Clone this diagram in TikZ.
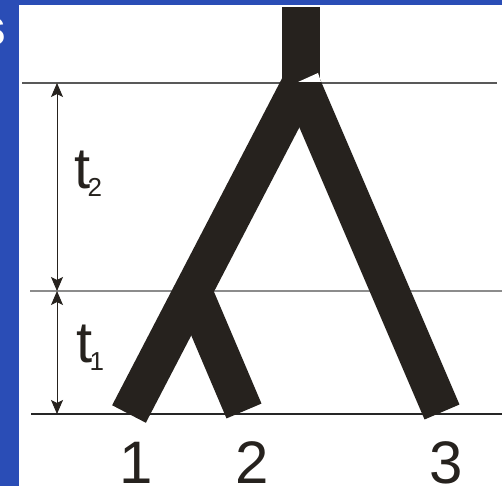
\documentclass[tikz,border=0pt]{standalone}
\usepackage{fontspec}
\setmainfont{Liberation Sans}
\usetikzlibrary{arrows.meta}
\definecolor{SlideBlue}{HTML}{2A4DB6}
\definecolor{TreeInk}{HTML}{26221E}

\begin{document}
\begin{tikzpicture}[x=0.5pt,y=-0.5pt,
    branch/.style={TreeInk,line width=19pt},
    level/.style={line width=0.7pt},
    span/.style={{Stealth[length=7pt,width=6pt,inset=1.5pt]}-{Stealth[length=7pt,width=6pt,inset=1.5pt]},line width=0.5pt,TreeInk},
    leaf/.style={anchor=base,inner sep=0pt,text=TreeInk,font=\fontsize{30}{30}\selectfont},
    time/.style={anchor=base west,inner sep=0pt,text=TreeInk,font=\fontsize{29}{29}\selectfont}]
        \useasboundingbox (0,0) rectangle (502,486);
        \fill[SlideBlue] (0,0) rectangle (502,486);
        \fill[white] (19,5) rectangle (502,486);
        \node[white,anchor=east,inner sep=0pt,font=\bfseries\fontsize{26}{26}\selectfont] (title) at (7,32) {s};
        % time levels
        \draw[level,black!65] (22,83) -- (497,83);
        \draw[level,black!45] (30,291) -- (502,291);
        \draw[level,black!85] (31,414) -- (502,414);
        \coordinate (t2top) at (57,83);
        \coordinate (t1top) at (57,291);
        \coordinate (t1bot) at (57,414);
        \draw[span] (t2top) -- (t1top);
        \draw[span] (t1top) -- (t1bot);
        \node[time] (lab2) at (74,188) {t\kern-1.5pt\raisebox{-4pt}{\fontsize{13}{13}\selectfont 2}};
        \node[time] (lab1) at (76,362) {t\kern-1.5pt\raisebox{-4pt}{\fontsize{13}{13}\selectfont 1}};
        % tree
        \coordinate (root) at (301,7);
        \coordinate (apex) at (301,83);
        \coordinate (join) at (193,291);
        \coordinate (leaf1) at (129,414);
        \coordinate (leaf2) at (244,411);
        \coordinate (leaf3) at (442,412);
        \draw[branch] (root) -- (apex);
        \draw[branch] (apex) -- (leaf1);
        \draw[branch] (apex) -- (leaf3);
        \draw[branch] (join) -- (leaf2);
        \fill[white] (298,82) -- (318,73) -- (321,82) -- cycle;
        \node[leaf] (n1) at (136,483) {1};
        \node[leaf] (n2) at (252,483) {2};
        \node[leaf] (n3) at (446,483) {3};
\end{tikzpicture}
\end{document}
